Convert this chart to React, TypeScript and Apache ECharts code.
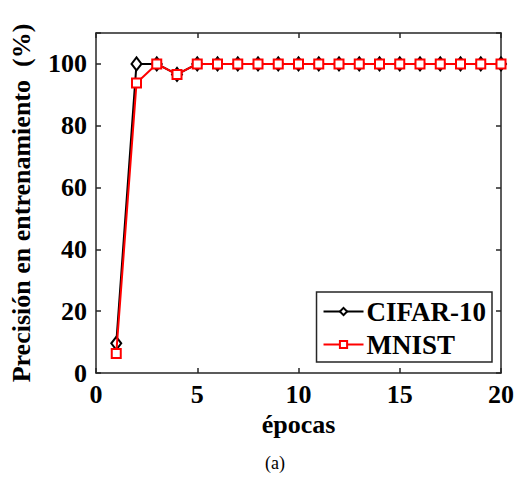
import React, { useEffect, useRef } from "react";
import * as echarts from "echarts";

const epochs = [1, 2, 3, 4, 5, 6, 7, 8, 9, 10, 11, 12, 13, 14, 15, 16, 17, 18, 19, 20];
const cifar10 = [9.6, 100, 100, 96.6, 100, 100, 100, 100, 100, 100, 100, 100, 100, 100, 100, 100, 100, 100, 100, 100];
const mnist = [6.3, 93.8, 100, 96.6, 100, 100, 100, 100, 100, 100, 100, 100, 100, 100, 100, 100, 100, 100, 100, 100];
const xTicks = [0, 5, 10, 15, 20];
const yTicks = [0, 20, 40, 60, 80, 100];

const FONT = "'Liberation Serif', 'Times New Roman', serif";
const AX = "#262626";

export default function App() {
  const ref = useRef<HTMLDivElement>(null);
  useEffect(() => {
    const chart = echarts.init(ref.current!, null, { renderer: "svg" });
    const axisCommon = {
      axisLine: { show: true, onZero: false, lineStyle: { color: AX, width: 1.5 } },
      axisTick: { show: true, inside: true, length: 5, lineStyle: { color: AX, width: 1.5 } },
      splitLine: { show: false },
    };
    chart.setOption({
      animation: false,
      backgroundColor: "#fff",
      grid: { left: 92, right: 14, top: 33, bottom: 107, containLabel: false },
      xAxis: [
        {
          type: "value", min: 0, max: 20, interval: 5, position: "bottom",
          ...axisCommon,
          name: "épocas", nameLocation: "middle", nameGap: 38,
          nameTextStyle: { fontFamily: FONT, fontWeight: "bold", fontSize: 26, color: "#000" },
          axisLabel: { fontFamily: FONT, fontWeight: "bold", fontSize: 26, color: "#000", margin: 8,
            formatter: (v: number) => (xTicks.includes(v) ? String(v) : "") },
        },
        {
          type: "value", min: 0, max: 20, interval: 5, position: "top",
          ...axisCommon, axisLabel: { show: false },
        },
      ],
      yAxis: [
        {
          type: "value", min: 0, max: 110, interval: 20, position: "left",
          ...axisCommon,
          name: "Precisión en entrenamiento  (%)", nameLocation: "middle", nameGap: 62,
          nameTextStyle: { fontFamily: FONT, fontWeight: "bold", fontSize: 26, color: "#000" },
          axisLabel: { fontFamily: FONT, fontWeight: "bold", fontSize: 26, color: "#000", margin: 9,
            formatter: (v: number) => (yTicks.includes(v) ? String(v) : "") },
        },
        {
          type: "value", min: 0, max: 110, interval: 20, position: "right",
          ...axisCommon, axisLabel: { show: false },
        },
      ],
      legend: {
        orient: "vertical",
        right: 25, bottom: 118,
        backgroundColor: "#fff",
        borderColor: AX, borderWidth: 1.5, borderRadius: 0,
        padding: [6, 6, 4, 6],
        itemGap: 6,
        itemWidth: 40, itemHeight: 9,
        textStyle: { fontFamily: FONT, fontWeight: "bold", fontSize: 27, color: "#000", padding: [0, 0, 0, -2] },
        data: ["CIFAR-10", "MNIST"],
      },
      series: [
        {
          name: "CIFAR-10", type: "line",
          data: epochs.map((e, i) => [e, cifar10[i]]),
          symbol: "diamond", symbolSize: [10, 13],
          lineStyle: { color: "#000", width: 2 },
          itemStyle: { color: "#fff", borderColor: "#000", borderWidth: 2 },
          z: 2,
        },
        {
          name: "MNIST", type: "line",
          data: epochs.map((e, i) => [e, mnist[i]]),
          symbol: "rect", symbolSize: 9,
          lineStyle: { color: "#ff0000", width: 2 },
          itemStyle: { color: "#fff", borderColor: "#ff0000", borderWidth: 2 },
          z: 3,
        },
      ],
      graphic: [
        {
          type: "text", left: 265, top: 454,
          style: { text: "(a)", fontFamily: FONT, fontSize: 18, fill: "#000" },
        },
      ],
    });
    return () => chart.dispose();
  }, []);
  return <div ref={ref} style={{ position: "absolute", left: 0, top: 0, width: 517, height: 480 }} />;
}
